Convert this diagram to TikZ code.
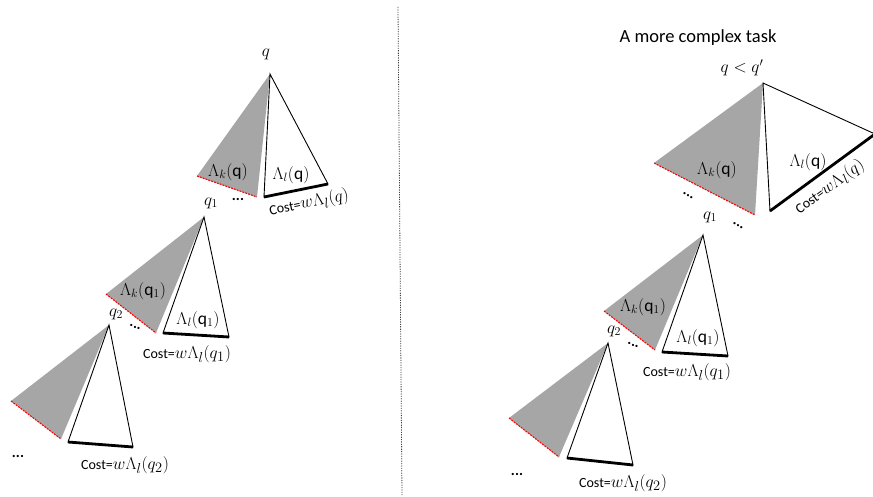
\documentclass[tikz,border=0pt]{standalone}
\usepackage{fontspec}
\setmainfont{Carlito}
\definecolor{triGray}{RGB}{166,166,166}
\newcommand\costlbl[1]{{\fontsize{14}{16}\selectfont Cost=}{\fontsize{19}{22}\selectfont$#1$}}
\begin{document}
\begin{tikzpicture}[x=1pt,y=-1pt,
  font=\fontsize{17.5}{20}\selectfont,
  grayfill/.style={fill=triGray, draw=none},
  whitetri/.style={draw=black, line width=0.9pt, line join=miter, fill=white},
  costbase/.style={line width=2.8pt},
  redline/.style={draw=red, line width=1.1pt, dash pattern=on 2pt off 1pt},
  lbl/.style={inner sep=0pt},
  dotsl/.style={inner sep=0pt, font=\fontsize{15}{16}\selectfont\bfseries},
  divider/.style={draw=black!75, line width=0.8pt, dash pattern=on 1.2pt off 1.2pt}]
\useasboundingbox (0,0) rectangle (873,497);
\clip (0,0) rectangle (873,497);

% ---------- coordinates of the pieces ----------
% left side
\coordinate (LA1) at (270,74);  \coordinate (LgL1) at (197,176); \coordinate (LgR1) at (257,197);
\coordinate (LwL1) at (264,197); \coordinate (LwR1) at (328,184);
\coordinate (LA2) at (204,217);  \coordinate (LgL2) at (106,294); \coordinate (LgR2) at (156,333);
\coordinate (LwL2) at (163,333); \coordinate (LwR2) at (229,337);
\coordinate (LA3) at (109,325);  \coordinate (LgL3) at (11,401);  \coordinate (LgR3) at (61,439);
\coordinate (LwL3) at (68,442);  \coordinate (LwR3) at (133,447);
% right side
\coordinate (RA1) at (763,83);   \coordinate (RgL1) at (654,163); \coordinate (RgR1) at (755,215);
\coordinate (RwL1) at (770,211); \coordinate (RwR1) at (875,134);
\coordinate (RA2) at (703,235);  \coordinate (RgL2) at (604,311); \coordinate (RgR2) at (655,350);
\coordinate (RwL2) at (662,352); \coordinate (RwR2) at (728,356);
\coordinate (RA3) at (608,343);  \coordinate (RgL3) at (509,418); \coordinate (RgR3) at (559,457);
\coordinate (RwL3) at (567,458); \coordinate (RwR3) at (633,465);

\foreach \s in {L,R}{
  \foreach \i in {1,2,3}{
    \fill[grayfill] (\s A\i) -- (\s gL\i) -- (\s gR\i) -- cycle;
    \draw[redline] (\s gL\i) -- (\s gR\i);
    \draw[whitetri] (\s A\i) -- (\s wL\i) -- (\s wR\i) -- cycle;
    \draw[costbase] (\s wL\i) -- (\s wR\i);
  }
}

% divider
\coordinate (dTop) at (398,7);
\coordinate (dBot) at (402,495);
\draw[divider] (dTop) -- (dBot);

% ---------- left labels ----------
\node[lbl] (lq) at (266,54) {$q$};
\node[lbl] (lk1) at (228,172) {$\Lambda_k(\mathrm{q})$};
\node[lbl] (ll1) at (291,175) {$\Lambda_l(\mathrm{q})$};
\node[lbl] (lq1) at (211,203) {$q_1$};
\node[dotsl] (ld1) at (238,199) {...};
\node[lbl, rotate=11.5] (lc1) at (309,203) {\costlbl{w\Lambda_l(q)}};
\node[lbl] (lk2) at (143,291) {$\Lambda_k(\mathrm{q}_1)$};
\node[lbl] (ll2) at (198,320) {$\Lambda_l(\mathrm{q}_1)$};
\node[lbl] (lq2) at (116,314) {$q_2$};
\node[dotsl, rotate=-25] (ld2) at (135,327) {...};
\node[lbl] (lc2) at (187,354) {\costlbl{w\Lambda_l(q_1)}};
\node[dotsl] (ld3) at (18,456) {...};
\node[lbl] (lc3) at (125,465) {\costlbl{w\Lambda_l(q_2)}};

% ---------- right labels ----------
\node[lbl, font=\fontsize{18.5}{21}\selectfont] (title) at (698,38) {A more complex task};
\node[lbl] (rq) at (742,68) {$q < q'$};
\node[lbl] (rk1) at (717,170) {$\Lambda_k(\mathrm{q})$};
\node[lbl] (rl1) at (808,162) {$\Lambda_l(\mathrm{q})$};
\node[lbl, rotate=36.2, anchor=west] (rc1) at (797,211) {\costlbl{w\Lambda_l(q)}};
\node[dotsl, rotate=-30] (rd1) at (688,196) {...};
\node[lbl] (rq1) at (710,217) {$q_1$};
\node[dotsl, rotate=-30] (rd2) at (738,226) {...};
\node[lbl] (rk2) at (643,307) {$\Lambda_k(\mathrm{q}_1)$};
\node[lbl] (rl2) at (698,338) {$\Lambda_l(\mathrm{q}_1)$};
\node[lbl] (rq2) at (614,331) {$q_2$};
\node[dotsl, rotate=-25] (rd3) at (633,345) {...};
\node[lbl] (rc2) at (687,372) {\costlbl{w\Lambda_l(q_1)}};
\node[dotsl] (rd4) at (517,474) {...};
\node[lbl] (rc3) at (623,483) {\costlbl{w\Lambda_l(q_2)}};
\end{tikzpicture}
\end{document}
